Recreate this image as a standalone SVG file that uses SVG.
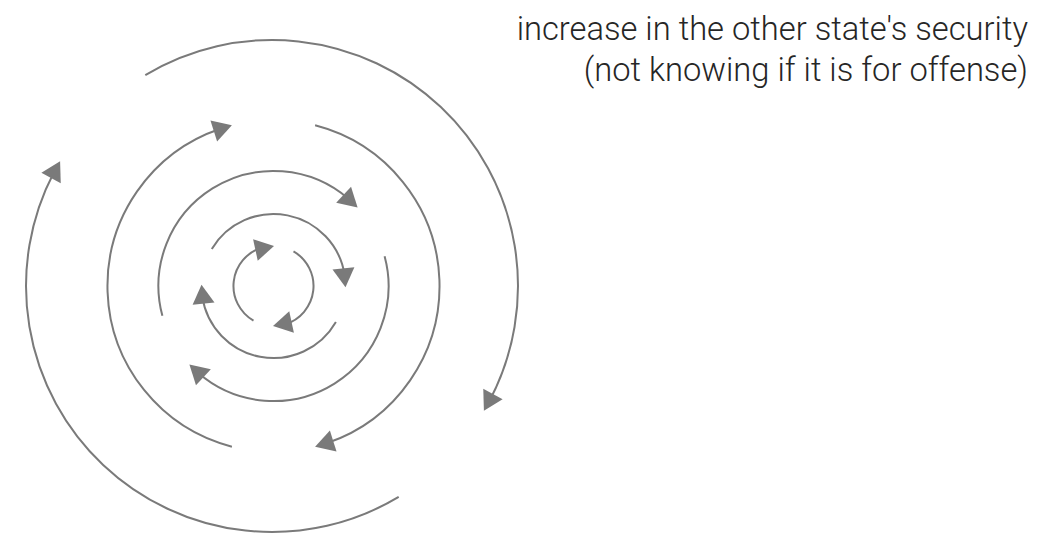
<svg xmlns="http://www.w3.org/2000/svg" xmlns:xlink="http://www.w3.org/1999/xlink" width="1055" height="536" viewBox="0 0 1055 536">
  <style>
    .arc { fill: none; stroke: #7a7a7a; stroke-width: 2; }
    .head { fill: #7a7a7a; stroke: none; }
    .label { font-family: "Roboto", "Liberation Sans", sans-serif; font-weight: 300; font-size: 32.7px; fill: #262626; text-anchor: end; }
  </style>
  <defs>
    <path id="ah" class="head" d="M0,0 L-19,-11 L-19,11 Z"/>
  </defs>
  <rect width="1055" height="536" fill="#ffffff"/>
  <g id="connectors">
    <g id="ring1">
      <path class="arc" d="M253.5,320.6 A40,40 0 0 1 262.1,247.6"/>
      <use xlink:href="#ah" href="#ah" transform="translate(274,246) rotate(347.8)"/>
      <path class="arc" d="M293.5,251.4 A40,40 0 0 1 284.9,324.4"/>
      <use xlink:href="#ah" href="#ah" transform="translate(273,326) rotate(167.8)"/>
    </g>
    <g id="ring2">
      <path class="arc" d="M211.8,248.9 A72,72 0 0 1 344.7,275.3"/>
      <use xlink:href="#ah" href="#ah" transform="translate(345.5,287.3) rotate(83.8)"/>
      <path class="arc" d="M335.9,322 A72,72 0 0 1 202.3,296.7"/>
      <use xlink:href="#ah" href="#ah" transform="translate(201.5,284.7) rotate(263.8)"/>
    </g>
    <g id="ring3">
      <path class="arc" d="M162.4,315.8 A115,115 0 0 1 348.95,199.2"/>
      <use xlink:href="#ah" href="#ah" transform="translate(357.6,207.6) rotate(42.5)"/>
      <path class="arc" d="M384.6,256.2 A115,115 0 0 1 198.05,372.8"/>
      <use xlink:href="#ah" href="#ah" transform="translate(189.4,364.4) rotate(222.5)"/>
    </g>
    <g id="ring4">
      <path class="arc" d="M315.1,125.3 A166,166 0 0 1 326.6,443.3"/>
      <use xlink:href="#ah" href="#ah" transform="translate(315.1,446.7) rotate(162.4)"/>
      <path class="arc" d="M231.9,446.7 A166,166 0 0 1 220.4,128.7"/>
      <use xlink:href="#ah" href="#ah" transform="translate(231.9,125.3) rotate(342.4)"/>
    </g>
    <g id="ring5">
      <path class="arc" d="M145.3,75.1 A246,246 0 0 1 489.8,400.3"/>
      <use xlink:href="#ah" href="#ah" transform="translate(483.9,410.8) rotate(118.4)"/>
      <path class="arc" d="M398.7,496.9 A246,246 0 0 1 54.2,171.7"/>
      <use xlink:href="#ah" href="#ah" transform="translate(60.1,161.2) rotate(298.4)"/>
    </g>
  </g>
  <g id="caption">
    <text class="label" x="1028" y="40">increase in the other state's security</text>
    <text class="label" x="1028" y="81">(not knowing if it is for offense)</text>
  </g>
</svg>
